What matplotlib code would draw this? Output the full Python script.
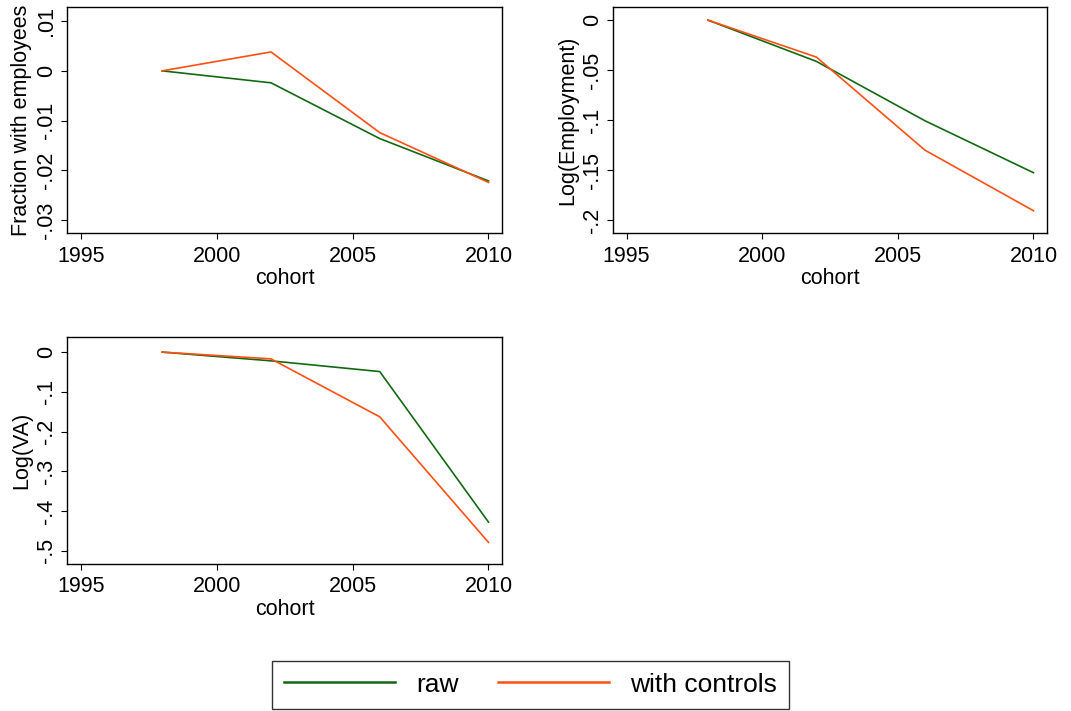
import matplotlib
matplotlib.use("Agg")
from matplotlib import pyplot as plt
from matplotlib.ticker import FixedLocator, FuncFormatter

plt.rcParams['font.family'] = ['Liberation Sans', 'DejaVu Sans']

cohort = [1998, 2002, 2006, 2010]

# fraction with employees
frac_raw = [0.0, -0.0024, -0.0136, -0.0221]
frac_ctrl = [0.0, 0.0038, -0.0124, -0.0224]

# log employment
emp_raw = [0.0, -0.0413, -0.1006, -0.1525]
emp_ctrl = [0.0, -0.037, -0.130, -0.1905]

# log value added
va_raw = [0.0, -0.022, -0.049, -0.428]
va_ctrl = [0.0, -0.017, -0.163, -0.479]

xticks = [1995, 2000, 2005, 2010]

GREEN = '#136913'
ORANGE = '#ff5014'


def stata_fmt(v, pos):
    s = ('%g' % round(v, 6))
    if s.startswith('0.'):
        s = s[1:]
    elif s.startswith('-0.'):
        s = '-' + s[2:]
    return s


def panel(rect, raw, ctrl, ylabel, yticks, ylim):
    ax = fig.add_axes(rect)
    ax.plot(cohort, raw, color=GREEN, lw=1.2, label='raw')
    ax.plot(cohort, ctrl, color=ORANGE, lw=1.2, label='with controls')
    ax.set_xlim(1994.5, 2010.5)
    ax.set_ylim(*ylim)
    ax.xaxis.set_major_locator(FixedLocator(xticks))
    ax.yaxis.set_major_locator(FixedLocator(yticks))
    ax.yaxis.set_major_formatter(FuncFormatter(stata_fmt))
    ax.tick_params(labelsize=15.5, length=4, width=0.8, color='black', pad=3)
    ax.tick_params(axis='x', pad=5)
    ax.tick_params(axis='y', labelrotation=90)
    for lab in ax.get_yticklabels():
        lab.set_va('center')
    ax.set_xlabel('cohort', fontsize=15.5, labelpad=1)
    ax.set_ylabel(ylabel, fontsize=15.5, labelpad=3)
    for sp in ax.spines.values():
        sp.set_linewidth(1.0)
    return ax


fig = plt.figure(figsize=(10.71, 7.11), dpi=100)

ax1 = panel([0.0626, 0.672, 0.4062, 0.318], frac_raw, frac_ctrl,
            'Fraction with employees', [-0.03, -0.02, -0.01, 0, 0.01],
            (-0.0326, 0.0128))
panel([0.5724, 0.672, 0.4052, 0.318], emp_raw, emp_ctrl,
      'Log(Employment)', [-0.2, -0.15, -0.1, -0.05, 0], (-0.213, 0.013))
panel([0.0626, 0.207, 0.4062, 0.319], va_raw, va_ctrl,
      'Log(VA)', [-0.5, -0.4, -0.3, -0.2, -0.1, 0], (-0.533, 0.038))

h, l = ax1.get_legend_handles_labels()
leg = fig.legend(h, l, loc='center', bbox_to_anchor=(0.4955, 0.037), ncol=2,
                 fontsize=19, frameon=True, fancybox=False, edgecolor='black',
                 handlelength=4.2, columnspacing=1.5, handletextpad=0.8,
                 borderpad=0.45, borderaxespad=0.3)
leg.get_frame().set_linewidth(1.0)
for ln in leg.get_lines():
    ln.set_linewidth(1.8)

fig.savefig('out.png', dpi=100)
